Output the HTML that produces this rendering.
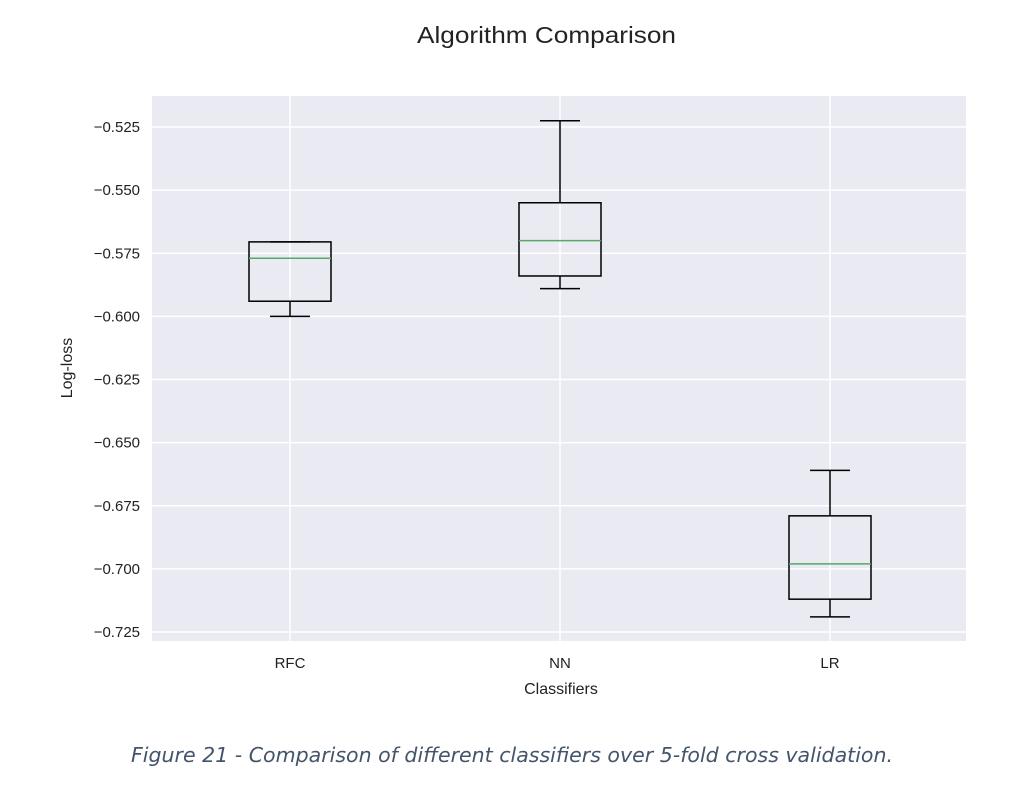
<!DOCTYPE html>
<html><head><meta charset="utf-8"><style>
body{margin:0;background:#fff;width:1011px;height:782px;overflow:hidden;font-family:"Liberation Sans",sans-serif}
</style></head><body>
<svg width="1011" height="782" id="svg">
<text x="417" y="43" textLength="259" lengthAdjust="spacingAndGlyphs" font-size="23" fill="#222">Algorithm Comparison</text>
<rect x="152" y="96" width="814" height="545" fill="#eaeaf2"/>
<g id="grid"></g><g id="boxes"></g>
<text x="561" y="694" text-anchor="middle" font-size="16" fill="#222">Classifiers</text>
<text transform="translate(72,368) rotate(-90)" text-anchor="middle" font-size="16" fill="#222">Log-loss</text>
<text x="131" y="762" textLength="762" lengthAdjust="spacingAndGlyphs" font-size="20" font-style="italic" fill="#44546a" font-family="'DejaVu Sans',sans-serif">Figure 21 - Comparison of different classifiers over 5-fold cross validation.</text>
</svg>
<script>
const categories=["RFC","NN","LR"];
const whiskerLow=[-0.600,-0.589,-0.719];
const q1=[-0.594,-0.584,-0.712];
const medians=[-0.577,-0.570,-0.698];
const q3=[-0.5705,-0.555,-0.679];
const whiskerHigh=[-0.5705,-0.5225,-0.661];
const yTicks=[-0.525,-0.55,-0.575,-0.6,-0.625,-0.65,-0.675,-0.7,-0.725];
const yLabels=["−0.525","−0.550","−0.575","−0.600","−0.625","−0.650","−0.675","−0.700","−0.725"];
const ns="http://www.w3.org/2000/svg";
const y=v=>127+(v+0.525)/(-0.025)*63.125;
const x=i=>290+i*270;
function mk(t,a,p){const e=document.createElementNS(ns,t);for(const k in a)e.setAttribute(k,a[k]);p.appendChild(e);return e;}
const g=document.getElementById('grid'),b=document.getElementById('boxes');
yTicks.forEach((v,i)=>{
 const l=mk('line',{x1:152,x2:966,y1:y(v),y2:y(v),stroke:'#fff','stroke-width':1.5},g);
 
 
 const t=mk('text',{x:140,y:y(v)+5,'text-anchor':'end','font-size':15,fill:'#222'},g);
 t.textContent=yLabels[i];
 
 
});
categories.forEach((c,i)=>{
 const l=mk('line',{x1:x(i),x2:x(i),y1:96,y2:641,stroke:'#fff','stroke-width':1.5},g);
 
 
 const t=mk('text',{x:x(i),y:668,'text-anchor':'middle','font-size':15,fill:'#222'},g);
 t.textContent=c;
 
 
 const grp=mk('g',{stroke:'#000','stroke-width':1.5,fill:'none'},b);
 
 
 const cx=x(i),hw=41,cw=20;
 mk('line',{x1:cx,x2:cx,y1:y(whiskerHigh[i]),y2:y(q3[i])},grp);
 mk('line',{x1:cx,x2:cx,y1:y(q1[i]),y2:y(whiskerLow[i])},grp);
 mk('line',{x1:cx-cw,x2:cx+cw,y1:y(whiskerHigh[i]),y2:y(whiskerHigh[i])},grp);
 mk('line',{x1:cx-cw,x2:cx+cw,y1:y(whiskerLow[i]),y2:y(whiskerLow[i])},grp);
 mk('rect',{x:cx-hw,y:y(q3[i]),width:2*hw,height:y(q1[i])-y(q3[i])},grp);
 mk('line',{x1:cx-hw,x2:cx+hw,y1:y(medians[i]),y2:y(medians[i]),stroke:'#55a868'},grp);
});
</script>
</body></html>
